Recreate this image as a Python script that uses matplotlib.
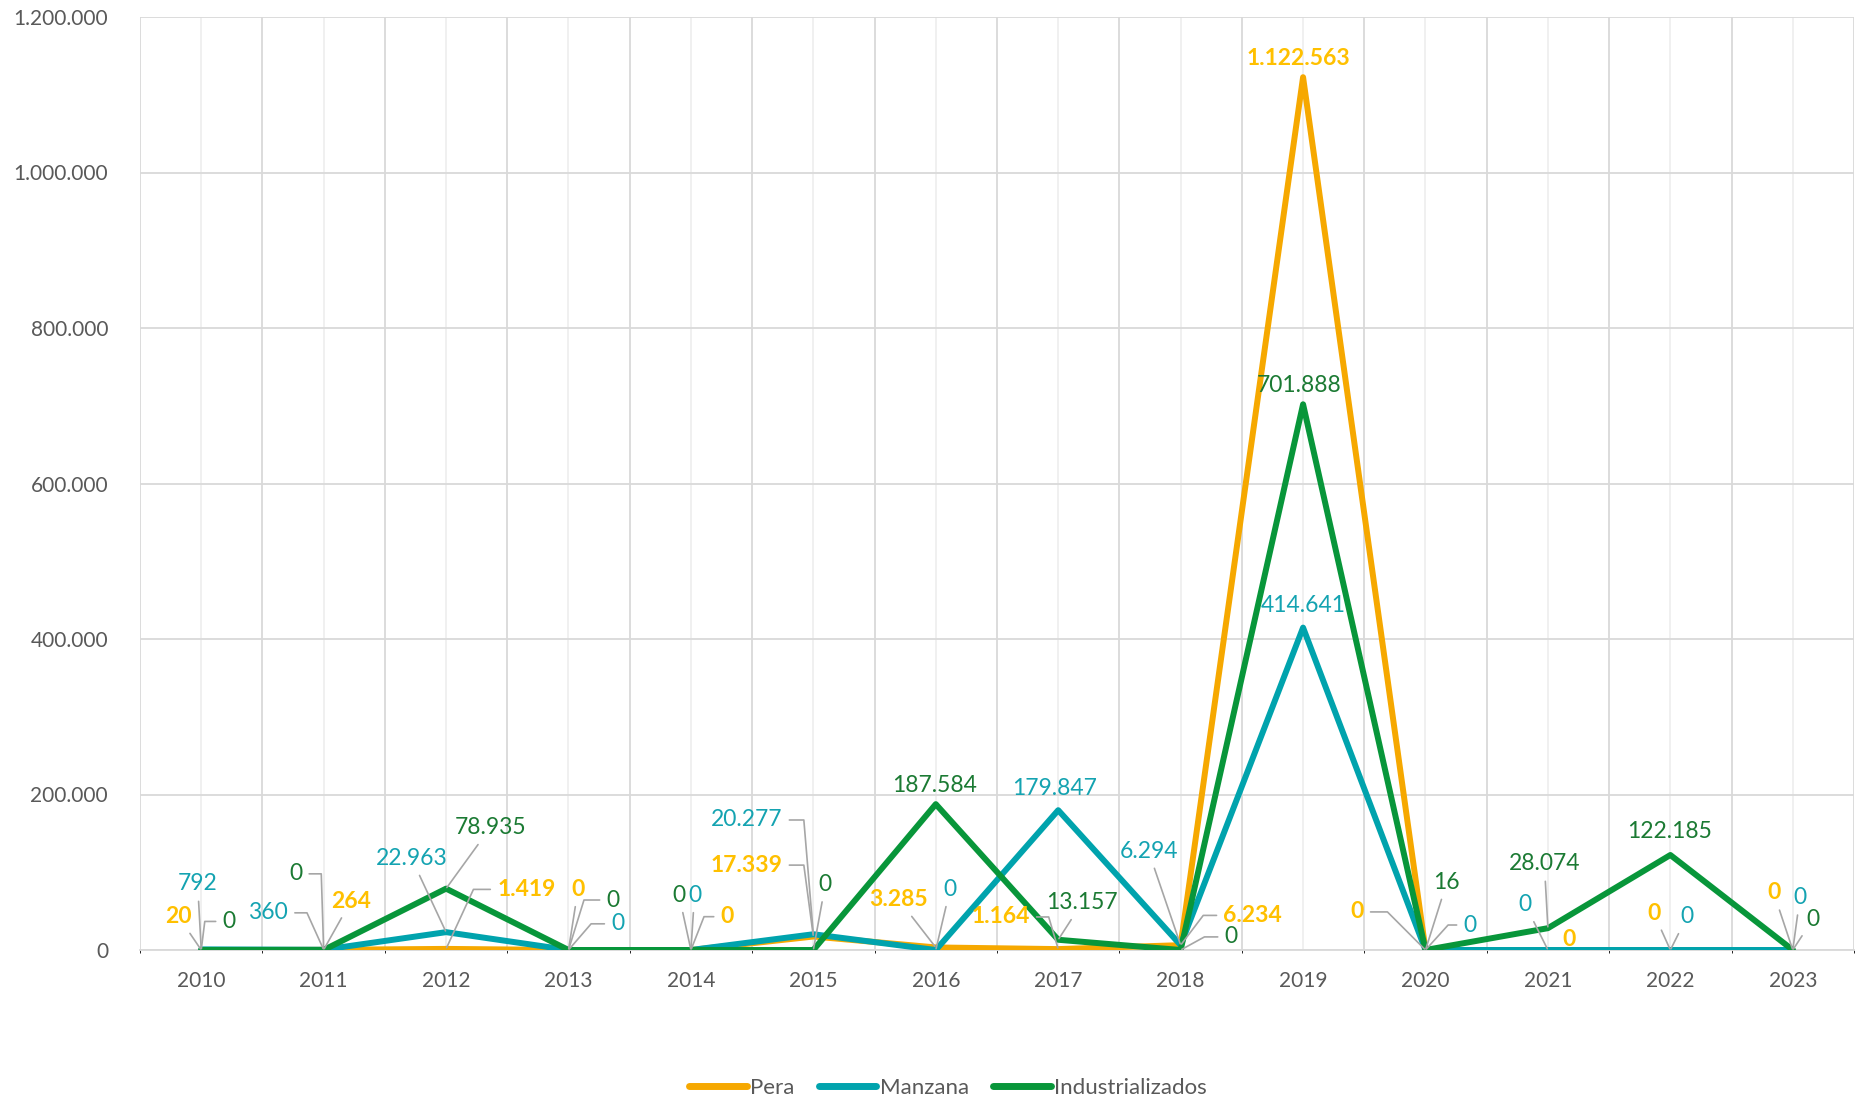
import math
import matplotlib
matplotlib.use("Agg")
import matplotlib.pyplot as plt
from matplotlib.ticker import FuncFormatter, MultipleLocator

years = [2010, 2011, 2012, 2013, 2014, 2015, 2016, 2017, 2018, 2019, 2020, 2021, 2022, 2023]
pera = [20, 264, 1419, 0, 0, 17339, 3285, 1164, 6234, 1122563, 0, 0, 0, 0]
manzana = [792, 360, 22963, 0, 0, 20277, 0, 179847, 6294, 414641, 0, 0, 0, 0]
industrializados = [0, 0, 78935, 0, 0, 0, 187584, 13157, 0, 701888, 16, 28074, 122185, 0]

plt.rcParams["font.family"] = ["Lato", "DejaVu Sans"]

series = {
    "P": ("Pera", pera, "#F6A800", "#FFC000", "bold"),
    "M": ("Manzana", manzana, "#00A3AD", "#14A3B1", "normal"),
    "I": ("Industrializados", industrializados, "#08963A", "#1B7A33", "normal"),
}

# label placement: series, year index, dx, dy (px, shrunk units), kind, elbow x
labels = [
    ("P", 0, -19, 28, "line", 0), ("M", 0, -3, 55, "line", 0), ("I", 0, 18, 24, "stubR", 3),
    ("I", 1, -18, 64, "stubL", -2), ("M", 1, -30, 31, "stubL", -14), ("P", 1, 23, 41, "line", 0),
    ("I", 2, 37, 51, "line", 0), ("M", 2, -29, 62, "line", 0), ("P", 2, 43, 50, "stubR", 23),
    ("P", 3, 8, 51, "line", 0), ("I", 3, 32, 42, "stubR", 13), ("M", 3, 36, 22, "stubR", 19),
    ("I", 4, -10, 46, "line", 0), ("M", 4, 3, 46, "line", 0), ("P", 4, 25, 28, "stubR", 11),
    ("M", 5, -26, 96, "stubL", -8), ("P", 5, -26, 60, "stubL", -8), ("I", 5, 10, 55, "line", 0),
    ("I", 6, -1, 16, "none", 0), ("P", 6, -31, 40, "line", 0), ("M", 6, 12, 51, "line", 0),
    ("M", 7, -3, 18, "none", 0), ("I", 7, 20, 31, "line", 0), ("P", 7, -24, 27, "stubL", -8),
    ("M", 8, -27, 79, "line", 0), ("P", 8, 36, 25, "stubR", 19), ("I", 8, 37, 11, "stubR", 20),
    ("P", 9, -4, 16, "none", 0), ("I", 9, -3, 16, "none", 0), ("M", 9, 0, 19, "none", 0),
    ("P", 10, -52, 32, "stubL", -32), ("I", 10, 18, 57, "line", 0), ("M", 10, 32, 21, "stubR", 19),
    ("I", 11, -3, 54, "line", 0), ("M", 11, -19, 38, "line", 0), ("P", 11, 18, 9, "none", 0),
    ("I", 12, -1, 20, "none", 0), ("P", 12, -14, 31, "line", 0), ("M", 12, 14, 28, "line", 0),
    ("P", 13, -16, 48, "line", 0), ("M", 13, 6, 44, "line", 0), ("I", 13, 17, 26, "line", 0),
]


def fmt(v):
    return f"{int(v):,}".replace(",", ".")


fig = plt.figure(figsize=(18.65, 11), dpi=100)
ax = fig.add_axes([140 / 1865, 1 - 950 / 1100, 1714 / 1865, 933 / 1100])

x = list(range(len(years)))
for key in ["P", "M", "I"]:
    name, vals, lc, tc, fw = series[key]
    ax.plot(x, vals, color=lc, lw=4.3, label=name, solid_joinstyle="round",
            solid_capstyle="round", zorder=3)

ax.set_xlim(-0.5, len(years) - 0.5)
ax.set_ylim(0, 1200000)
ax.yaxis.set_major_locator(MultipleLocator(200000))
ax.yaxis.set_major_formatter(FuncFormatter(lambda v, p: fmt(v)))
ax.set_xticks(x)
ax.set_xticklabels([str(y) for y in years])
ax.set_xticks([i - 0.5 for i in range(len(years) + 1)], minor=True)
ax.tick_params(axis="both", length=0, labelsize=15, colors="#595959")
ax.tick_params(axis="y", pad=23)
ax.tick_params(axis="x", pad=15)
ax.grid(axis="y", color="#D9D9D9", lw=1.3, zorder=0)
ax.grid(axis="x", which="major", color="#EFEFEF", lw=1.3, zorder=0)
ax.grid(axis="x", which="minor", color="#D9D9D9", lw=1.3, zorder=0)
for s in ["top", "right", "left"]:
    ax.spines[s].set_visible(False)
ax.spines["bottom"].set_color("#D9D9D9")
ax.spines["bottom"].set_linewidth(1.3)

k = 1.19
for key, i, dx, dy, kind, cx in labels:
    name, vals, lc, tc, fw = series[key]
    dxp, dyp = dx * k, dy * k
    kw = dict(xy=(i, vals[i]), xytext=(dxp, dyp), textcoords="offset pixels",
              color=tc, fontsize=16.5, fontweight=fw, va="center", zorder=5,
              annotation_clip=False)
    if kind == "none":
        ax.annotate(fmt(vals[i]), ha="center", **kw)
    elif kind == "line":
        ax.annotate(fmt(vals[i]), ha="center",
                    arrowprops=dict(arrowstyle="-", color="#A6A6A6", lw=1.2,
                                    shrinkA=3, shrinkB=1), **kw)
    else:
        ang = math.degrees(math.atan2(dyp, cx * k))
        if kind == "stubR":
            ha, rel = "left", (0, 0.5)
        else:
            ha, rel = "right", (1, 0.5)
        ax.annotate(fmt(vals[i]), ha=ha,
                    arrowprops=dict(arrowstyle="-", color="#A6A6A6", lw=1.2,
                                    relpos=rel, shrinkA=3, shrinkB=1,
                                    connectionstyle=f"angle,angleA=0,angleB={ang},rad=0"),
                    **kw)

leg = fig.legend(loc="center", bbox_to_anchor=(797 / 1568, 1 - 1088 / 1100), ncol=3,
                 frameon=False, fontsize=16, handlelength=2.6, handletextpad=0.15,
                 columnspacing=1.1)
for t in leg.get_texts():
    t.set_color("#595959")
for h in leg.get_lines():
    h.set_linewidth(5)
    h.set_solid_capstyle("round")

fig.savefig("out.png", dpi=100)
